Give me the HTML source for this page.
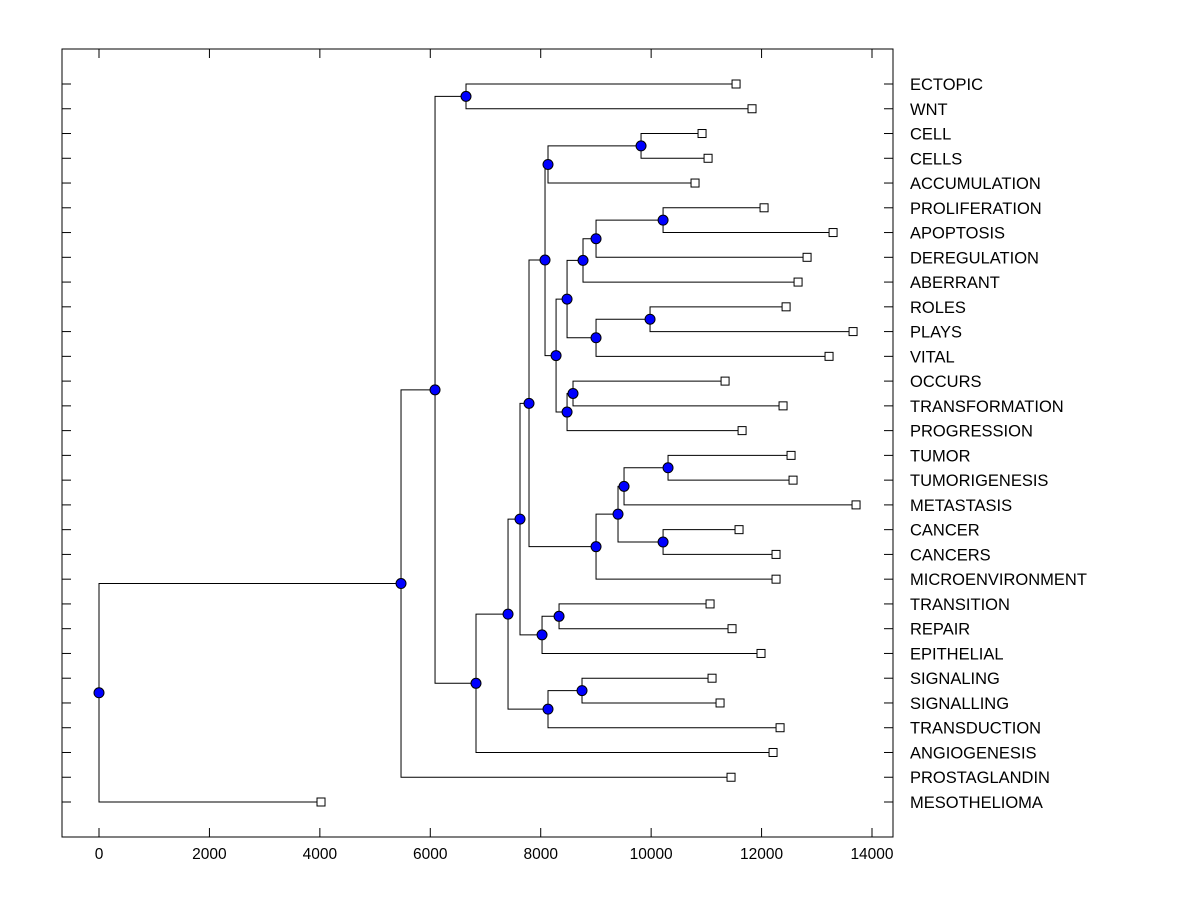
<!DOCTYPE html>
<html><head><meta charset="utf-8"><style>body{margin:0;background:#fff}svg{display:block}text{font-family:"Liberation Sans",Arial,sans-serif}</style></head>
<body>
<svg id="c" width="1200" height="900"></svg>
<script>
const leafNames=["ECTOPIC","WNT","CELL","CELLS","ACCUMULATION","PROLIFERATION","APOPTOSIS","DEREGULATION","ABERRANT","ROLES","PLAYS","VITAL","OCCURS","TRANSFORMATION","PROGRESSION","TUMOR","TUMORIGENESIS","METASTASIS","CANCER","CANCERS","MICROENVIRONMENT","TRANSITION","REPAIR","EPITHELIAL","SIGNALING","SIGNALLING","TRANSDUCTION","ANGIOGENESIS","PROSTAGLANDIN","MESOTHELIOMA"];
const leafValues=[11538,11827,10922,11031,10795,12045,13295,12824,12661,12444,13657,13222,11339,12389,11647,12534,12570,13711,11592,12262,12262,11067,11465,11990,11103,11248,12335,12208,11447,4021];
// merges: [childA, childB, height]; leaves are indices 0..29, internal nodes are 30+k
const mergeA=[0,2,31,5,33,34,9,36,35,12,39,38,32,15,43,18,44,46,42,21,49,48,24,52,51,54,30,56,57];
const mergeB=[1,3,4,6,7,8,10,11,37,13,14,40,41,16,17,19,45,20,47,22,23,50,25,26,53,27,55,28,29];
const mergeH=[6647,9817,8132,10216,9002,8766,9980,9002,8477,8585,8477,8278,8078,10306,9509,10216,9400,9002,7788,8332,8024,7625,8748,8132,7408,6828,6086,5470,0];
const xTicks=[0,2000,4000,6000,8000,10000,12000,14000];
const L=62,R=893,T=49,B=837;
const X=v=>99+v*(773/14000);
const Y=i=>84+i*(718/29);
const svg=document.getElementById('c');const NS='http://www.w3.org/2000/svg';
function mk(t,a,p){const e=document.createElementNS(NS,t);for(const k in a)e.setAttribute(k,a[k]);(p||svg).appendChild(e);return e;}
const frame=mk('rect',{x:L,y:T,width:R-L,height:B-T,fill:'none',stroke:'#000','stroke-width':1});


const pos=[];
leafNames.forEach((n,i)=>pos.push({x:X(leafValues[i]),y:Y(i)}));
mergeA.forEach((a,k)=>{const b=mergeB[k];pos.push({x:X(mergeH[k]),y:(pos[a].y+pos[b].y)/2});});
const g=mk('g',{});


mergeA.forEach((a,k)=>{const b=mergeB[k];const p=pos[30+k];
 const pl=mk('path',{d:`M${pos[a].x} ${pos[a].y}H${p.x}V${pos[b].y}H${pos[b].x}`,fill:'none',stroke:'#000','stroke-width':1},g);
 
 
});
mergeA.forEach((a,k)=>{const p=pos[30+k];
 const c=mk('circle',{cx:p.x,cy:p.y,r:5,fill:'#0000ff',stroke:'#000','stroke-width':1});
 
 
});
leafNames.forEach((n,i)=>{const p=pos[i];
 const s=mk('rect',{x:p.x-4,y:p.y-4,width:8,height:8,fill:'#fff',stroke:'#000','stroke-width':1});
 
 
 const t1=mk('line',{x1:L,x2:L+9,y1:p.y,y2:p.y,stroke:'#000'});
 
 
 const t2=mk('line',{x1:R-9,x2:R,y1:p.y,y2:p.y,stroke:'#000'});
 
 
 const t=mk('text',{x:910,y:p.y+6,'font-size':16.5,'textLength':null});t.removeAttribute('textLength');t.textContent=n;
 
 
});
xTicks.forEach(v=>{const x=X(v);
 const a=mk('line',{x1:x,x2:x,y1:B-9,y2:B,stroke:'#000'});
 
 
 const b=mk('line',{x1:x,x2:x,y1:T,y2:T+9,stroke:'#000'});
 
 
 const t=mk('text',{x:x,y:859,'font-size':15.5,'text-anchor':'middle'});t.textContent=v;
 
 
});
</script>
</body></html>
